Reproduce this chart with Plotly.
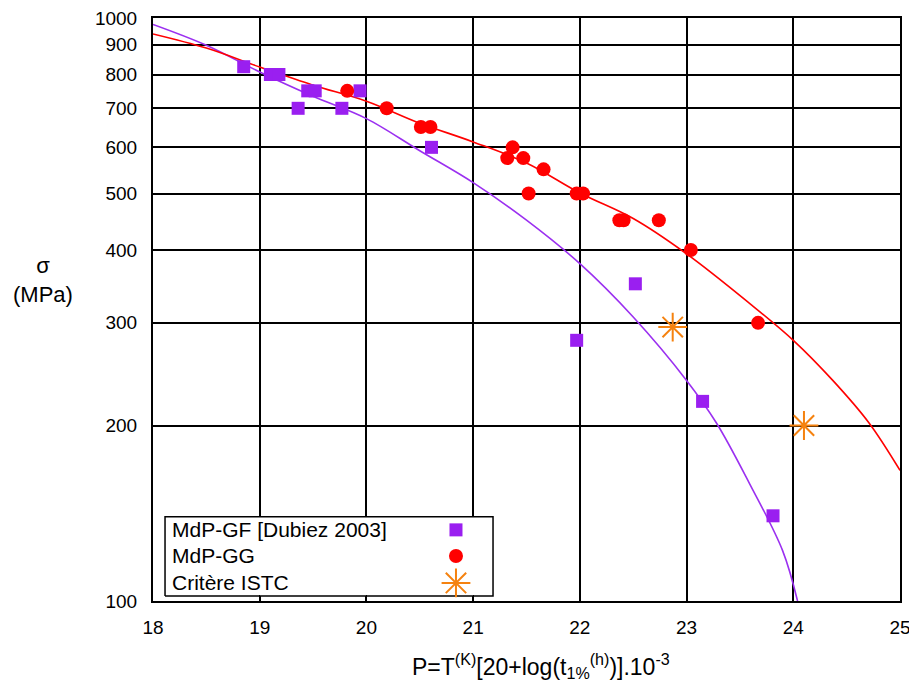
import plotly.graph_objects as go

# ---- data ----
gf_P = [18.85, 19.10, 19.18, 19.36, 19.45, 19.52, 19.77, 19.94, 20.61, 21.97, 22.52, 23.15, 23.81]
gf_S = [825, 800, 800, 700, 750, 750, 700, 750, 600, 280, 350, 220, 140]

gg_P = [19.82, 20.19, 20.51, 20.60, 21.32, 21.37, 21.47, 21.52, 21.66, 21.97, 22.03, 22.37, 22.41, 22.74, 23.04, 23.67]
gg_S = [750, 700, 650, 650, 575, 600, 575, 500, 550, 500, 500, 450, 450, 450, 400, 300]

istc_P = [22.87, 24.10]
istc_S = [295, 200]

gf_fit_P = [18.0, 18.5, 19.0, 19.5, 20.0, 20.5, 21.0, 21.5, 22.0, 22.5, 23.0, 23.28, 23.59, 23.9, 24.04]
gf_fit_S = [975, 898, 808, 734, 672, 592, 522, 450, 379, 307, 239, 202, 159, 122, 100]

gg_fit_P = [18.0, 18.5, 19.0, 19.5, 20.0, 20.5, 21.0, 21.5, 22.0, 22.5, 23.0, 23.59, 24.0, 24.37, 24.71, 25.0]
gg_fit_S = [939, 888, 824, 767, 720, 660, 613, 564, 501, 453, 394, 324, 280, 239, 202, 167.5]

y_ticks = [100, 200, 300, 400, 500, 600, 700, 800, 900, 1000]
x_ticks = [18, 19, 20, 21, 22, 23, 24, 25]

legend_labels = ["MdP-GF [Dubiez 2003]", "MdP-GG", "Critère ISTC"]

PURPLE = "#9a1ff0"
PURPLE_LINE = "#9b30f0"
RED = "#ff0000"
ORANGE = "#f5820f"
FONT = "Liberation Sans, Arial, sans-serif"

fig = go.Figure()

fig.add_trace(go.Scatter(x=gf_fit_P, y=gf_fit_S, mode="lines", line=dict(color=PURPLE_LINE, width=1.6, shape="spline"),
                         showlegend=False, hoverinfo="skip"))
fig.add_trace(go.Scatter(x=gg_fit_P, y=gg_fit_S, mode="lines", line=dict(color=RED, width=1.6, shape="spline"),
                         showlegend=False, hoverinfo="skip"))
fig.add_trace(go.Scatter(x=gf_P, y=gf_S, mode="markers", marker=dict(symbol="square", size=13, color=PURPLE),
                         showlegend=False))
fig.add_trace(go.Scatter(x=gg_P, y=gg_S, mode="markers", marker=dict(symbol="circle", size=14, color=RED),
                         showlegend=False))
fig.add_trace(go.Scatter(x=istc_P, y=istc_S, mode="markers",
                         marker=dict(symbol="asterisk-open", size=24, color=ORANGE, line=dict(color=ORANGE, width=2)),
                         showlegend=False))

# legend box and keys on a hidden overlay axis (0..1)
box_x0, box_x1, box_y0, box_y1 = 0.0161, 0.4552, 0.0086, 0.1446
fig.add_trace(go.Scatter(x=[box_x0, box_x1, box_x1, box_x0, box_x0], y=[box_y0, box_y0, box_y1, box_y1, box_y0],
                         xaxis="x2", yaxis="y2", mode="lines", fill="toself", fillcolor="white",
                         line=dict(color="black", width=1.5), showlegend=False, hoverinfo="skip"))

key_x = [0.4056, 0.4056, 0.4056]
key_y = [0.122, 0.0772, 0.031]
fig.add_trace(go.Scatter(x=[key_x[0]], y=[key_y[0]], xaxis="x2", yaxis="y2", mode="markers",
                         marker=dict(symbol="square", size=13, color=PURPLE), showlegend=False, hoverinfo="skip"))
fig.add_trace(go.Scatter(x=[key_x[1]], y=[key_y[1]], xaxis="x2", yaxis="y2", mode="markers",
                         marker=dict(symbol="circle", size=14, color=RED), showlegend=False, hoverinfo="skip"))
fig.add_trace(go.Scatter(x=[key_x[2]], y=[key_y[2]], xaxis="x2", yaxis="y2", mode="markers",
                         marker=dict(symbol="asterisk-open", size=24, color=ORANGE, line=dict(color=ORANGE, width=2)),
                         showlegend=False, hoverinfo="skip"))

for lbl, yy in zip(legend_labels, key_y):
    fig.add_annotation(xref="paper", yref="paper", x=0.0228, y=yy, text=lbl, showarrow=False,
                       xanchor="left", yanchor="middle", font=dict(size=21, color="black", family=FONT))

fig.add_annotation(xref="paper", yref="paper", x=-0.147, y=0.55, text="σ<br>(MPa)", showarrow=False,
                   xanchor="center", yanchor="middle", font=dict(size=22, color="black", family=FONT))
fig.add_annotation(xref="paper", yref="paper", x=0.519, y=-0.112,
                   text="P=T<sup>(K)</sup>[20+log(t<sub>1%</sub><sup>(h)</sup>)].10<sup>-3</sup>",
                   showarrow=False, xanchor="center", yanchor="middle",
                   font=dict(size=23, color="black", family=FONT))

fig.update_layout(
    width=909, height=674,
    margin=dict(l=145, r=17, t=10, b=81, autoexpand=False),
    paper_bgcolor="white", plot_bgcolor="white",
    font=dict(family=FONT, size=19, color="black"),
    xaxis=dict(range=[18, 25], tickvals=x_ticks, showgrid=True, gridcolor="black", gridwidth=1.5,
               showline=True, linecolor="black", linewidth=2, mirror=True, zeroline=False,
               ticks="inside", ticklen=6, tickcolor="black", tickfont=dict(size=19),
               ticklabelstandoff=8, automargin=False, ticklabeloverflow="allow"),
    yaxis=dict(type="log", range=[2, 3], tickvals=y_ticks, ticktext=[str(v) for v in y_ticks],
               showgrid=True, gridcolor="black", gridwidth=1.5,
               showline=True, linecolor="black", linewidth=2, mirror=True, zeroline=False,
               ticks="inside", ticklen=6, tickcolor="black", tickfont=dict(size=19),
               ticklabelstandoff=10, automargin=False, ticklabeloverflow="allow"),
    xaxis2=dict(range=[0, 1], overlaying="x", visible=False, fixedrange=True, automargin=False),
    yaxis2=dict(range=[0, 1], overlaying="y", visible=False, fixedrange=True, automargin=False),
)

fig.write_html("out.html")
